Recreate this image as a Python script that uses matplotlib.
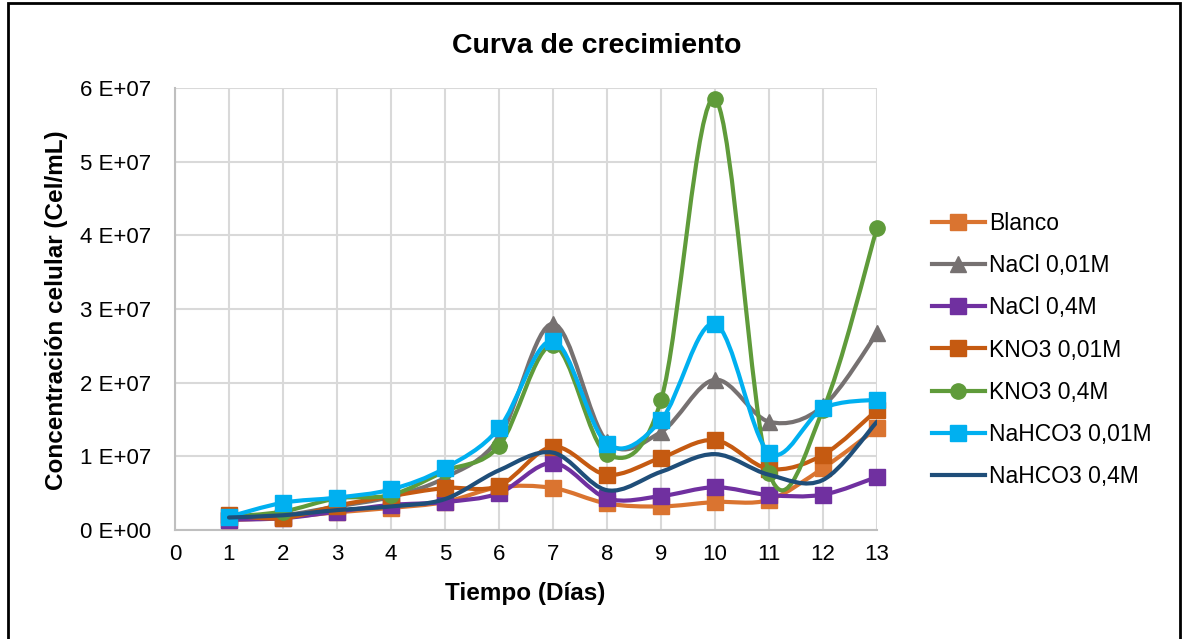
import matplotlib
matplotlib.use("Agg")
import matplotlib.pyplot as plt
import numpy as np
from matplotlib.path import Path
from matplotlib.patches import PathPatch, Rectangle
from matplotlib.lines import Line2D

plt.rcParams['font.family'] = ['Liberation Sans', 'DejaVu Sans']

days = [1, 2, 3, 4, 5, 6, 7, 8, 9, 10, 11, 12, 13]

blanco      = [1.35e6, 1.7e6, 2.4e6, 3.0e6, 3.8e6, 5.8e6, 5.7e6, 3.6e6, 3.2e6, 3.8e6, 4.1e6, 8.4e6, 1.38e7]
nacl_001    = [1.7e6, 2.0e6, 3.2e6, 4.5e6, 7.1e6, 1.25e7, 2.80e7, 1.20e7, 1.33e7, 2.04e7, 1.47e7, 1.68e7, 2.67e7]
nacl_04     = [1.4e6, 1.6e6, 2.5e6, 3.4e6, 3.8e6, 5.0e6, 9.1e6, 4.3e6, 4.6e6, 5.8e6, 4.75e6, 4.8e6, 7.2e6]
kno3_001    = [2.0e6, 1.6e6, 3.3e6, 4.6e6, 5.7e6, 6.0e6, 1.13e7, 7.5e6, 9.8e6, 1.22e7, 8.3e6, 1.02e7, 1.63e7]
kno3_04     = [1.8e6, 2.5e6, 4.3e6, 4.75e6, 8.0e6, 1.14e7, 2.51e7, 1.03e7, 1.76e7, 5.85e7, 7.8e6, 1.63e7, 4.10e7]
nahco3_001  = [1.8e6, 3.7e6, 4.4e6, 5.5e6, 8.4e6, 1.38e7, 2.57e7, 1.17e7, 1.49e7, 2.80e7, 1.05e7, 1.65e7, 1.77e7]
nahco3_04   = [1.7e6, 2.0e6, 2.7e6, 3.2e6, 4.2e6, 8.1e6, 1.05e7, 5.4e6, 7.9e6, 1.03e7, 7.5e6, 6.8e6, 1.47e7]

series_names = ["Blanco", "NaCl 0,01M", "NaCl 0,4M", "KNO3 0,01M", "KNO3 0,4M", "NaHCO3 0,01M", "NaHCO3 0,4M"]
series_vals = [blanco, nacl_001, nacl_04, kno3_001, kno3_04, nahco3_001, nahco3_04]
colors = ["#DA7430", "#767171", "#7030A0", "#C55A11", "#5F9B3A", "#00B0F0", "#1F4E79"]
markers = ["s", "^", "s", "s", "o", "s", None]
msizes = [11, 12, 11, 11, 11, 11, 0]

xticks = list(range(0, 14))
yticks = [0, 1e7, 2e7, 3e7, 4e7, 5e7, 6e7]
ytick_labels = ["0 E+00", "1 E+07", "2 E+07", "3 E+07", "4 E+07", "5 E+07", "6 E+07"]

title = "Curva de crecimiento"
xlabel = "Tiempo (Días)"
ylabel = "Concentración celular (Cel/mL)"

W, H = 1188, 639
fig = plt.figure(figsize=(W / 100, H / 100), dpi=100)
ax = fig.add_axes([175 / W, 109 / H, 702 / W, 442 / H])


def smooth_path(xs, ys):
    pts = np.column_stack([xs, ys]).astype(float)
    n = len(pts)
    verts = [pts[0]]
    codes = [Path.MOVETO]
    for i in range(n - 1):
        p0 = pts[i - 1] if i > 0 else pts[i]
        p1 = pts[i]
        p2 = pts[i + 1]
        p3 = pts[i + 2] if i + 2 < n else pts[i + 1]
        c1 = p1 + (p2 - p0) / 6.0
        c2 = p2 - (p3 - p1) / 6.0
        verts += [c1, c2, p2]
        codes += [Path.CURVE4] * 3
    return Path(verts, codes)


handles = []
for i, (name, vals) in enumerate(zip(series_names, series_vals)):
    path = smooth_path(days, vals)
    patch = PathPatch(path, facecolor="none", edgecolor=colors[i], lw=3.0,
                      capstyle="round", joinstyle="round", zorder=3 + i)
    ax.add_patch(patch)
    if markers[i] is not None:
        ax.plot(days, vals, linestyle="none", marker=markers[i], markersize=msizes[i],
                color=colors[i], markeredgecolor=colors[i], zorder=3 + i + 0.5, clip_on=False)
    handles.append(Line2D([0], [0], color=colors[i], lw=3.0, marker=markers[i],
                          markersize=msizes[i] if markers[i] else 0, markeredgecolor=colors[i]))

ax.set_xlim(0, 13)
ax.set_ylim(0, 6e7)
ax.set_xticks(xticks)
ax.set_xticklabels([str(t) for t in xticks])
ax.set_yticks(yticks)
ax.set_yticklabels(ytick_labels)
ax.tick_params(axis="both", length=0, labelsize=16, colors="black")
ax.tick_params(axis="y", pad=17)
ax.tick_params(axis="x", pad=10)
ax.grid(True, color="#D9D9D9", lw=1.5, zorder=0)
ax.set_axisbelow(True)
for s in ["top", "right"]:
    ax.spines[s].set_visible(False)
for s in ["left", "bottom"]:
    ax.spines[s].set_color("#BFBFBF")
    ax.spines[s].set_linewidth(1.5)

fig.text(597 / W, 1 - 53 / H, title, ha="center", va="baseline", fontsize=20.5, fontweight="bold")
fig.text(525 / W, 1 - 600 / H, xlabel, ha="center", va="baseline", fontsize=17.5, fontweight="bold")
fig.text(57 / W, 1 - 310 / H, ylabel, ha="center", va="center", rotation=90, fontsize=17.5, fontweight="bold")

leg = fig.legend(handles, series_names, loc="center left", bbox_to_anchor=(932 / W, 1 - 350 / H),
                 frameon=False, fontsize=16.5, handlelength=2.3, handletextpad=0.2,
                 labelspacing=0.84, borderpad=0, borderaxespad=0)

fig.patches.append(Rectangle((8 / W, -0.02), (1180 - 8) / W, 1.02 - 3 / H, transform=fig.transFigure,
                             fill=False, edgecolor="black", lw=2.0))

fig.savefig("out.png", dpi=100)
